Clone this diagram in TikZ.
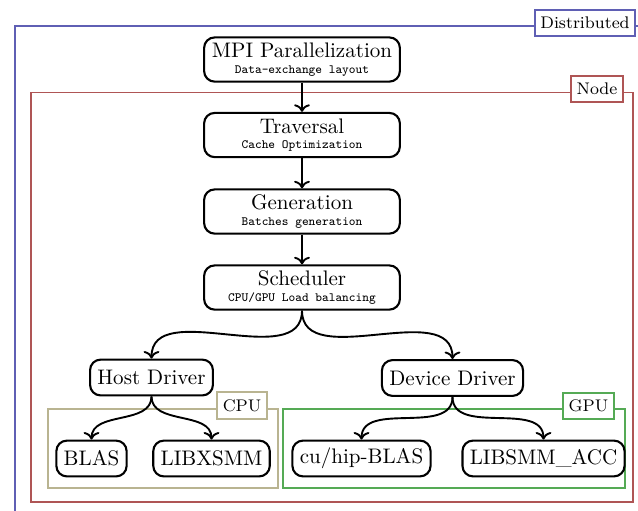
\documentclass[tikz,border=0pt]{standalone}
\usetikzlibrary{arrows.meta}
\definecolor{distblue}{RGB}{95,95,180}
\definecolor{nodered}{RGB}{175,85,85}
\definecolor{cputan}{RGB}{185,180,145}
\definecolor{gpugreen}{RGB}{85,170,85}
\newcommand{\subfont}{\fontsize{6}{7}\selectfont\ttfamily}
\tikzset{
  bigbox/.style={draw, line width=1pt, rounded corners=5pt, minimum width=93pt, minimum height=21pt, align=center, inner sep=1pt},
  smallbox/.style={draw, line width=1pt, rounded corners=5pt, inner xsep=3.5pt, minimum height=17pt, inner ysep=1pt},
  frame/.style={line width=0.9pt},
  framelabel/.style={draw, line width=0.9pt, fill=white, font=\footnotesize, inner xsep=2.7pt, inner ysep=3.4pt},
  conn/.style={line width=0.9pt, ->}
}
\begin{document}
\begin{tikzpicture}[x=0.475pt, y=-0.475pt]
\clip (0,0) rectangle (638,510);
% frames
\draw[frame, distblue] (15,26) rectangle (660,530);
\node[framelabel, draw=distblue] (distlab) at (585,23) {Distributed};
\draw[frame, nodered] (31,92.5) rectangle (633,502);
\node[framelabel, draw=nodered] (nodelab) at (597,89) {Node};
\draw[frame, cputan] (48,409) rectangle (278,488);
\node[framelabel, draw=cputan] (cpulab) at (242,405.5) {CPU};
\draw[frame, gpugreen] (283,409) rectangle (625,488);
\node[framelabel, draw=gpugreen] (gpulab) at (588.5,406) {GPU};
% main boxes
\node[bigbox] (mpi) at (302,59.5) {MPI Parallelization\\[-4.5pt]\subfont Data-exchange layout};
\node[bigbox] (trav) at (302,135) {Traversal\\[-4.5pt]\subfont Cache Optimization};
\node[bigbox] (gen) at (302,211.5) {Generation\\[-4.5pt]\subfont Batches generation};
\node[bigbox] (sched) at (302,287.5) {Scheduler\\[-4.5pt]\subfont CPU/GPU Load balancing};
\node[smallbox] (host) at (151.5,377.5) {Host Driver};
\node[smallbox] (dev) at (452.5,378) {Device Driver};
\node[smallbox] (blas) at (91.5,458.5) {BLAS};
\node[smallbox] (xsmm) at (211.5,458.5) {LIBXSMM};
\node[smallbox] (cublas) at (361.5,458.5) {cu/hip-BLAS};
\node[smallbox] (smmacc) at (543.5,458.5) {LIBSMM\_ACC};
% connectors
\draw[conn] (mpi) -- (trav);
\draw[conn] (trav) -- (gen);
\draw[conn] (gen) -- (sched);
\draw[conn] (sched.south) to[out=-90,in=90] (host.north);
\draw[conn] (sched.south) to[out=-90,in=90] (dev.north);
\draw[conn] (host.south) to[out=-90,in=90] (blas.north);
\draw[conn] (host.south) to[out=-90,in=90] (xsmm.north);
\draw[conn] (dev.south) to[out=-90,in=90] (cublas.north);
\draw[conn] (dev.south) to[out=-90,in=90] (smmacc.north);
\end{tikzpicture}
\end{document}
